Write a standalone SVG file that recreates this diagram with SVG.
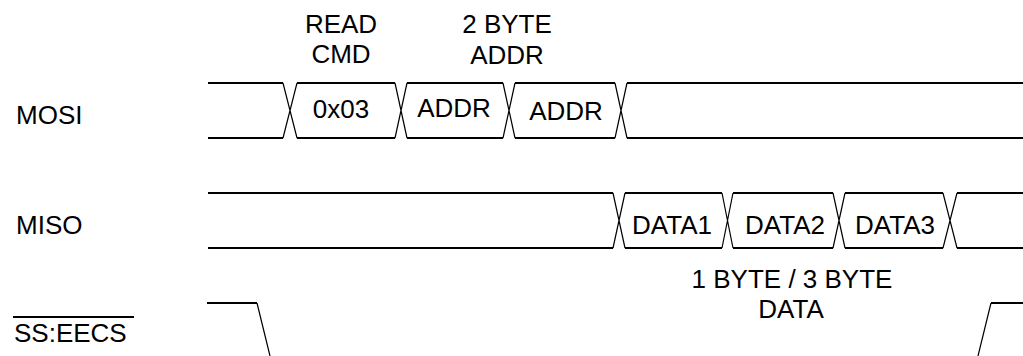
<svg xmlns="http://www.w3.org/2000/svg" width="1023" height="356" viewBox="0 0 1023 356">
<style>
.h{fill:none;stroke:#000;stroke-width:2;stroke-linecap:butt}
.d{fill:none;stroke:#000;stroke-width:1.2}
.t{font-family:"Liberation Sans",Arial,sans-serif;font-size:26px;fill:#000}
.c{text-anchor:middle}
</style>
<rect width="1023" height="356" fill="#fff"/>
<g id="labels">
<text class="t" x="16" y="124">MOSI</text>
<text class="t" x="16" y="234">MISO</text>
<text class="t" x="14" y="342">SS:EECS</text>
<line x1="13" y1="317" x2="134" y2="317" stroke="#000" stroke-width="2"/>
<text class="t c" x="341" y="33">READ</text>
<text class="t c" x="341" y="63">CMD</text>
<text class="t c" x="507" y="33">2 BYTE</text>
<text class="t c" x="507" y="64">ADDR</text>
<text class="t c" x="792" y="288">1 BYTE / 3 BYTE</text>
<text class="t c" x="791" y="318">DATA</text>
</g>
<g id="mosi">
<path class="h" d="M208,83H283M297,83H395M407,83H503M515,83H615M627,83H1023"/>
<path class="h" d="M208,138H283M297,138H395M407,138H503M515,138H615M627,138H1023"/>
<path class="d" d="M283,83L297,138M297,83L283,138M395,83L407,138M407,83L395,138M503,83L515,138M515,83L503,138M615,83L627,138M627,83L615,138"/>
<text class="t c" x="341" y="118">0x03</text>
<text class="t c" x="454" y="117">ADDR</text>
<text class="t c" x="566" y="120">ADDR</text>
</g>
<g id="miso">
<path class="h" d="M208,193H613M625,193H722M733,193H833M845,193H943M957,193H1023"/>
<path class="h" d="M208,248H613M625,248H722M733,248H833M845,248H943M957,248H1023"/>
<path class="d" d="M613,193L625,248M625,193L613,248M722,193L733,248M733,193L722,248M833,193L845,248M845,193L833,248M943,193L957,248M957,193L943,248"/>
<text class="t c" x="672" y="234">DATA1</text>
<text class="t c" x="785" y="234">DATA2</text>
<text class="t c" x="895" y="234">DATA3</text>
</g>
<g id="ss">
<path class="h" d="M207,303H257M991,303H1023"/>
<path class="d" d="M257,303L270,356M978,356L991,303"/>
</g>
</svg>
